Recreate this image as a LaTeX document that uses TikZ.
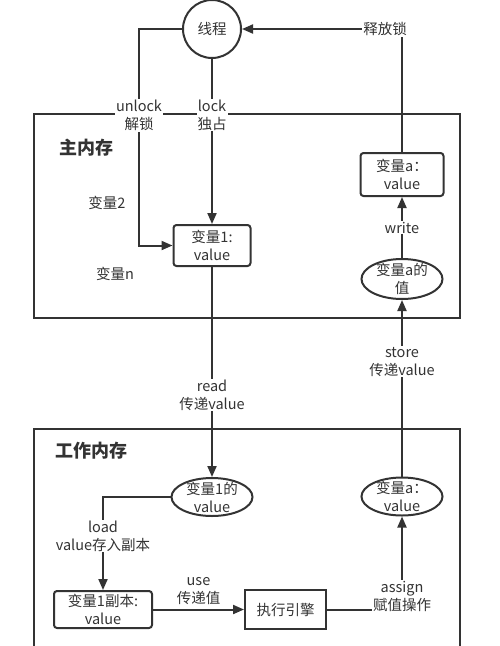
\documentclass[tikz,border=0pt]{standalone}
\usepackage{fontspec}
\setmainfont{Noto Sans CJK SC}
\usepackage{tikz}
\usetikzlibrary{arrows.meta,shapes}
\definecolor{ink}{HTML}{333333}
\tikzset{
  >={Triangle[length=11pt,width=9pt]},
  line/.style={draw=ink,line width=2pt},
  box/.style={line,rounded corners=3pt,align=center,inner sep=0pt},
  oval/.style={line,ellipse,align=center,inner xsep=0pt,inner ysep=-5pt,minimum width=81pt,minimum height=40pt},
  lbl/.style={fill=white,align=center,inner sep=1pt,text=ink},
  title/.style={font=\fontsize{18}{22}\selectfont\bfseries,text=ink}
}

\begin{document}
\begin{tikzpicture}[x=1pt,y=-1pt,font=\fontsize{14.5}{18}\selectfont,text=ink]
  \useasboundingbox (0,0) rectangle (500,646);
  \clip (0,0) rectangle (500,646);
  \draw[line] (34,114) rectangle (460,318);
  \draw[line] (34,429) rectangle (460,670);
  \node[title] (main) at (86,148) {主内存};
  \node[title] (work) at (91,451) {工作内存};
  \node (v2) at (107,203) {变量2};
  \node (vn) at (115,274) {变量n};
  \node[line,circle,minimum size=58pt,inner sep=0pt] (thread) at (212,29) {线程};
  \node[box,minimum width=77pt,minimum height=41pt] (var1) at (212,245.5) {变量1:\\value};
  \node[box,minimum width=83pt,minimum height=43pt] (vara) at (402,174.5) {变量a：\\value};
  \node[oval] (avalue) at (402,279) {变量a的\\值};
  \node[oval,minimum height=38pt] (v1value) at (212,497) {变量1的\\value};
  \node[oval,minimum height=38pt] (acopy) at (402,496.5) {变量a：\\value};
  \node[box,minimum width=98pt,minimum height=37pt] (v1copy) at (103,609.5) {变量1副本:\\value};
  \node[line,minimum width=81pt,minimum height=39pt] (engine) at (285.5,609.5) {执行引擎};
  \coordinate (ul) at (139,29);
  \draw[line,->] (thread.west) -- (ul) |- node[lbl,pos=0.2] {unlock\\解锁} (var1.west);
  \draw[line,->] (thread.south) -- node[lbl,pos=0.34] {lock\\独占} (var1.north);
  \draw[line,->] (vara.north) |- node[lbl,pos=0.553] {释放锁} (thread.east);
  \draw[line,->] (avalue) -- node[lbl] {write} (vara);
  \draw[line,->] (var1.south) -- node[lbl,pos=0.61] {read\\传递value} (v1value.north);
  \draw[line,->] (acopy.north) -- node[lbl,pos=0.65] {store\\传递value} (avalue.south);
  \draw[line,->] (v1value.west) -| node[lbl,pos=0.71] {load\\value存入副本} (v1copy.north);
  \draw[line,->] (v1copy.east) -- node[above=1pt,align=center] {use\\传递值} (engine.west);
  \draw[line,->] (engine.east) -| node[lbl,pos=0.57] {assign\\赋值操作} (acopy.south);
\end{tikzpicture}
\end{document}
